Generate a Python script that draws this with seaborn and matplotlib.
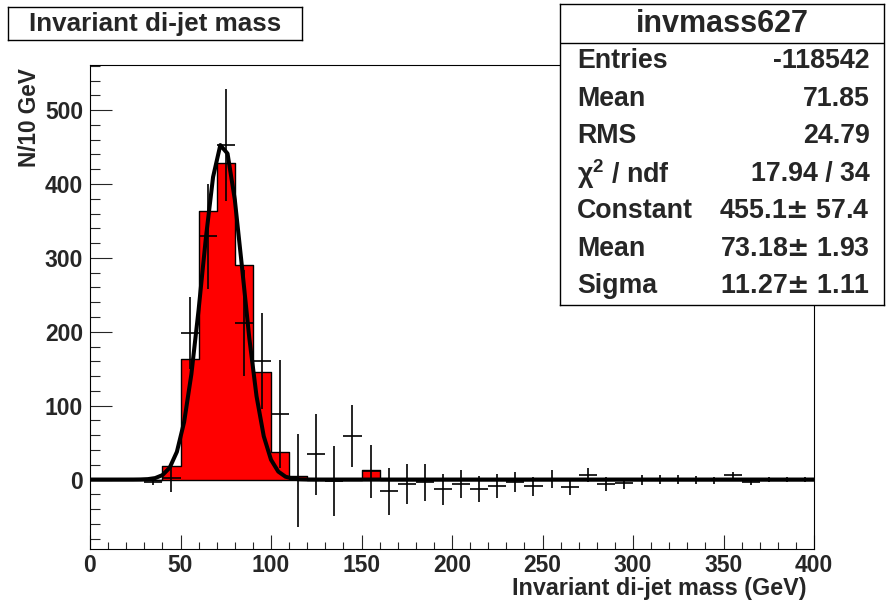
import numpy as np
import pandas as pd
import seaborn as sns
import matplotlib
matplotlib.use("Agg")
import matplotlib.pyplot as plt
from matplotlib.ticker import MultipleLocator

# red histogram, 10 GeV bins from 0 to 400
bin_edges = list(range(0, 410, 10))
sig_counts = [0, 0, 0, 0, 19, 163, 364, 428, 290, 145,
              37, 5, 0, 0, 0, 13, 0, 0, 0, 0,
              0, 0, 0, 0, 0, 0, 0, 0, 0, 0,
              0, 0, 0, 0, 0, 0, 0, 0, 0, 0]

# points with error bars (bin centres)
pt_x = [35, 45, 55, 65, 75, 85, 95, 105, 115, 125,
        135, 145, 155, 165, 175, 185, 195, 205, 215, 225,
        235, 245, 255, 265, 275, 285, 295, 305, 315, 325,
        335, 345, 355, 365, 375, 385, 395]
pt_y = [-3, 2, 198, 329, 453, 212, 161, 89, -1, 34,
        -2, 59, 11, -16, -6, -4, -13, -6, -13, -9,
        -3, -9, 1, -10, 6, -6, -5, -1, 0, 0,
        -1, -1, 6, -4, 0, 0, 0]
pt_err = [4, 19, 49, 71, 76, 72, 65, 73, 63, 55,
          47, 42, 36, 32, 27, 25, 21, 19, 18, 16,
          13.5, 13, 12, 11, 10, 9, 7.5, 6.5, 6, 6,
          5.5, 4.5, 4.5, 4, 3.5, 3, 3]

# gaussian fit (from stats box)
fit_const = 455.1
fit_mean = 73.18
fit_sigma = 11.27

stat_title = "invmass627"
stat_names = ["Entries", "Mean", "RMS", r"$\mathregular{\chi^2}$ / ndf", "Constant", "Mean", "Sigma"]
stat_vals = ["-118542", "71.85", "24.79", "17.94 / 34",
             r"455.1$\pm$ 57.4", r"73.18$\pm$ 1.93", r"11.27$\pm$ 1.11"]

sns.set_style("white")
plt.rcParams['font.family'] = ['Liberation Sans', 'DejaVu Sans']
plt.rcParams['font.weight'] = 'bold'

W, H = 886, 602
fig = plt.figure(figsize=(W / 100, H / 100), dpi=100)
ax = fig.add_axes([90 / W, 1 - 549 / H, (814 - 90) / W, (549 - 65) / H])

centres = [e + 5 for e in bin_edges[:-1]]
sns.histplot(x=centres, weights=sig_counts, bins=bin_edges, element="step",
             fill=True, color="red", alpha=1, edgecolor="black", linewidth=1, ax=ax)

ax.errorbar(pt_x, pt_y, xerr=5, yerr=pt_err, fmt='none', ecolor='black',
            elinewidth=1.2, capsize=0, zorder=3)

fx = np.linspace(0, 400, 101)
fy = fit_const * np.exp(-0.5 * ((fx - fit_mean) / fit_sigma) ** 2)
sns.lineplot(x=fx, y=fy, color='black', linewidth=2.9, ax=ax, zorder=4)

ax.set_xlim(0, 400)
ax.set_ylim(-94, 561)
ax.set_xlabel("")
ax.set_ylabel("")
ax.xaxis.set_major_locator(MultipleLocator(50))
ax.xaxis.set_minor_locator(MultipleLocator(10))
ax.yaxis.set_major_locator(MultipleLocator(100))
ax.yaxis.set_minor_locator(MultipleLocator(20))
ax.tick_params(axis='x', which='major', direction='in', length=10, width=0.8, pad=3.5,
               labelsize=16.5, bottom=True, top=False)
ax.tick_params(axis='x', which='minor', direction='in', length=5, width=0.8, bottom=True, top=False)
ax.tick_params(axis='y', which='major', direction='in', length=15.5, width=0.8, pad=5,
               labelsize=16.5, left=True, right=False)
ax.tick_params(axis='y', which='minor', direction='in', length=7.5, width=0.8, left=True, right=False)
for lab in ax.get_xticklabels() + ax.get_yticklabels():
    lab.set_fontweight('bold')
for s in ax.spines.values():
    s.set_color('black')
    s.set_linewidth(0.8)

fig.text(30 / W, 1 - 68 / H, "N/10 GeV", rotation=90, ha='center', va='top',
         fontsize=16.3, fontweight='bold')
fig.text(806 / W, 1 - 589 / H, "Invariant di-jet mass (GeV)", ha='right', va='center',
         fontsize=16.8, fontweight='bold')

# title box
tax = fig.add_axes([8 / W, 1 - 40 / H, 294 / W, 33 / H])
tax.set_xticks([])
tax.set_yticks([])
for s in tax.spines.values():
    s.set_color('black')
    s.set_linewidth(1)
tax.text(0.5, 0.5, "Invariant di-jet mass", ha='center', va='center',
         fontsize=18.7, fontweight='bold', transform=tax.transAxes)

# stats box
top_px, bot_px = 4, 305
sax = fig.add_axes([560 / W, 1 - bot_px / H, 324 / W, (bot_px - top_px) / H])
sax.set_xlim(0, 1)
sax.set_ylim(0, 1)
sax.set_xticks([])
sax.set_yticks([])
sax.set_facecolor('white')
for s in sax.spines.values():
    s.set_color('black')
    s.set_linewidth(1)
sep = (bot_px - 42.7) / (bot_px - top_px)
sax.axhline(sep, color='black', linewidth=1)
sax.text(0.5, (bot_px - 24) / (bot_px - top_px), stat_title, ha='center', va='center',
         fontsize=22, fontweight='bold')
for i, (nm, vl) in enumerate(zip(stat_names, stat_vals)):
    yc = 42.7 + 37.5 * (i + 0.5)
    yy = (bot_px - yc) / (bot_px - top_px)
    sax.text(0.052, yy, nm, ha='left', va='center', fontsize=19.3, fontweight='bold')
    sax.text(0.957, yy, vl, ha='right', va='center', fontsize=19.3, fontweight='bold')

fig.savefig("out.png", dpi=100)
